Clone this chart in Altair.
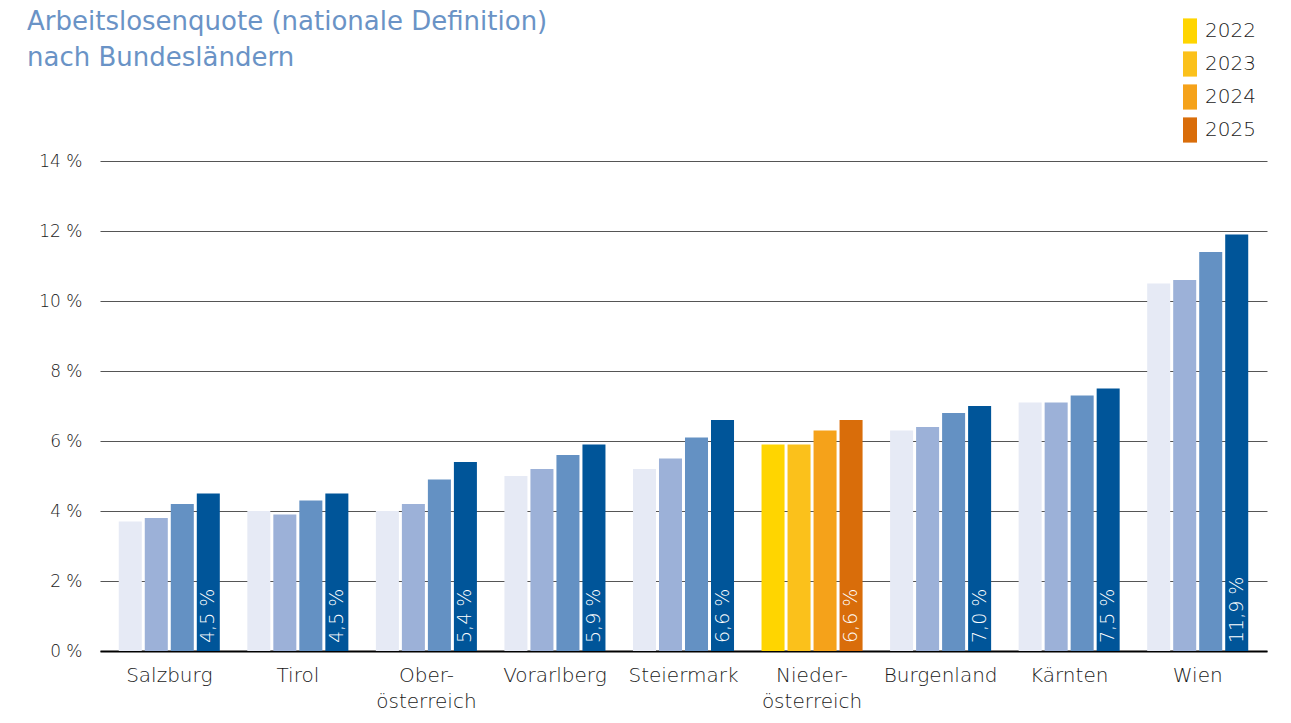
import altair as alt
import pandas as pd

regions = ["Salzburg", "Tirol", "Oberösterreich", "Vorarlberg", "Steiermark",
           "Niederösterreich", "Burgenland", "Kärnten", "Wien"]
years = ["2022", "2023", "2024", "2025"]
v2022 = [3.7, 4.0, 4.0, 5.0, 5.2, 5.9, 6.3, 7.1, 10.5]
v2023 = [3.8, 3.9, 4.2, 5.2, 5.5, 5.9, 6.4, 7.1, 10.6]
v2024 = [4.2, 4.3, 4.9, 5.6, 6.1, 6.3, 6.8, 7.3, 11.4]
v2025 = [4.5, 4.5, 5.4, 5.9, 6.6, 6.6, 7.0, 7.5, 11.9]
highlight = "Niederösterreich"

orange_colors = ["#FFD500", "#FBC11B", "#F5A21A", "#D96D0A"]
blue_colors = ["#E6EAF5", "#9CB1D8", "#6491C3", "#005599"]

rows = []
for series, year in zip([v2022, v2023, v2024, v2025], years):
    for r, v in zip(regions, series):
        key = year if r == highlight else "b" + year
        label = f"{v:.1f}".replace(".", ",") + " %"
        rows.append({"region": r, "year": year, "value": v, "key": key, "label": label})
df = pd.DataFrame(rows)

FONT = "DejaVu Sans"
W = 200
TXT = "#1a1a1a"

x_enc = alt.X("region:N", sort=regions, title=None,
              scale=alt.Scale(paddingInner=0.214, paddingOuter=0.146),
              axis=alt.Axis(labelAngle=0, ticks=False, domainColor="#000000", domainWidth=2,
                            labelFontSize=20, labelColor=TXT, labelFont=FONT,
                            labelFontWeight=W,
                            labelPadding=14, labelLineHeight=26, labelBaseline="top",
                            labelExpr="split(replace(datum.label, 'österreich', '-|österreich'), '|')"))
xoff = alt.XOffset("year:N", sort=years, scale=alt.Scale(paddingInner=0.115, paddingOuter=0))

bars = alt.Chart(df).mark_bar().encode(
    x=x_enc,
    xOffset=xoff,
    y=alt.Y("value:Q", title=None,
            scale=alt.Scale(domain=[0, 14]),
            axis=alt.Axis(values=[0, 2, 4, 6, 8, 10, 12, 14], labelExpr="datum.value + ' %'",
                          ticks=False, domain=False, labelPadding=18,
                          labelFontSize=17, labelColor=TXT, labelFont=FONT,
                          labelFontWeight=W,
                          gridColor="#555555", gridWidth=1)),
    color=alt.Color("key:N",
                    scale=alt.Scale(domain=years + ["b" + y for y in years],
                                    range=orange_colors + blue_colors),
                    legend=alt.Legend(values=years, title=None, orient="none",
                                      legendX=1076, legendY=-144,
                                      symbolType="M-0.5,-0.9h1v1.8h-1z", symbolSize=784,
                                      symbolStrokeWidth=0, symbolOpacity=1,
                                      labelFontSize=20, labelColor=TXT, labelFont=FONT,
                                      labelFontWeight=W,
                                      labelOffset=1, rowPadding=6, padding=0)),
)

labels = alt.Chart(df).transform_filter(alt.datum.year == "2025").mark_text(
    angle=270, align="left", baseline="middle", dx=8, color="white",
    fontSize=19, font=FONT, fontWeight=W
).encode(
    x=alt.X("region:N", sort=regions),
    xOffset=alt.XOffset("year:N", sort=years),
    y=alt.datum(0),
    text="label:N",
)

chart = alt.layer(bars, labels).properties(
    width=1167, height=490,
    title=alt.TitleParams(["Arbeitslosenquote (nationale Definition)", "nach Bundesländern"],
                          anchor="start", frame="group", dx=-73, offset=-54,
                          fontSize=26, font=FONT, fontWeight="normal", color="#6A93C6",
                          lineHeight=36),
    autosize=alt.AutoSizeParams(type="none"),
    padding={"left": 92, "top": 153, "right": 16, "bottom": 64},
).configure_view(stroke=None)

chart.save("out.html", embed_options={"renderer": "svg", "actions": False})
